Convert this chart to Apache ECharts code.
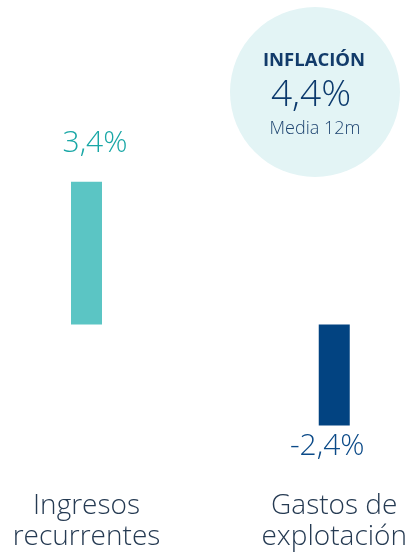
<!DOCTYPE html>
<html><head><meta charset="utf-8">
<script src="https://cdn.jsdelivr.net/npm/echarts@6/dist/echarts.min.js"></script>
<style>html,body{margin:0;padding:0;background:#fff}#c{width:410px;height:553px}</style>
</head><body><div id="c"></div>
<script>
const categories = ['Ingresos\nrecurrentes', 'Gastos de\nexplotación'];
const values = [3.4, -2.4];
const barColors = ['#5BC5C4', '#024381'];
const labelColors = ['#19A7A6', '#0B4A88'];
const inflationTitle = 'INFLACIÓN';
const inflationValue = [4.4];
const inflationNote = 'Media 12m';

const fmt = v => v.toFixed(1).replace('.', ',') + '%';
const FONT = '"Open Sans", Roboto, sans-serif';

const chart = echarts.init(document.getElementById('c'), null, {renderer: 'canvas'});
chart.setOption({
  animation: false,
  grid: {left: 86.5, right: 75.5, top: 156.5, bottom: 75, containLabel: false},
  xAxis: {
    type: 'category', data: categories, boundaryGap: false,
    axisLine: {show: false, onZero: false}, axisTick: {show: false},
    axisLabel: {fontFamily: FONT, fontWeight: 300, fontSize: 28, lineHeight: 31, color: '#253A52', margin: 13, interval: 0}
  },
  yAxis: {type: 'value', min: -3.65, max: 4, show: false, splitLine: {show: false}},
  series: [{
    type: 'bar', barWidth: 31,
    data: values.map((v, i) => ({
      value: v,
      itemStyle: {color: barColors[i]},
      label: {
        show: true, position: v >= 0 ? 'top' : 'bottom', distance: v >= 0 ? 23 : 6,
        offset: v >= 0 ? [8.5, 0] : [-7, 0],
        formatter: p => fmt(p.value), fontFamily: FONT, fontWeight: 300, fontSize: 30, lineHeight: 30, color: labelColors[i]
      }
    }))
  }],
  graphic: [
    {type: 'circle', shape: {cx: 315, cy: 92, r: 85}, style: {fill: '#E3F4F5'}, z: -1},
    {type: 'text', x: 314, y: 60.5, style: {text: inflationTitle, fontFamily: FONT, fontWeight: 'bold', fontSize: 18.5, fill: '#123B6A', align: 'center', verticalAlign: 'middle'}},
    {type: 'text', x: 311, y: 95, style: {text: fmt(inflationValue[0]), fontFamily: FONT, fontWeight: 300, fontSize: 37, fill: '#0C3A6D', align: 'center', verticalAlign: 'middle'}},
    {type: 'text', x: 315, y: 129, style: {text: inflationNote, fontFamily: FONT, fontWeight: 300, fontSize: 18, fill: '#1E4470', align: 'center', verticalAlign: 'middle'}}
  ]
});
</script></body></html>
